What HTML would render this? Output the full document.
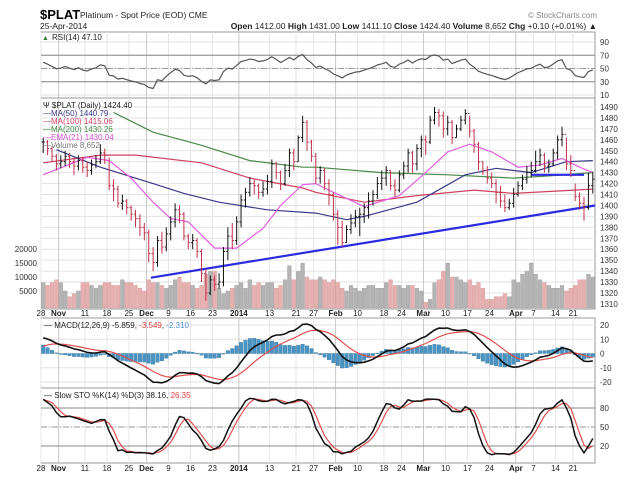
<!DOCTYPE html>
<html><head><meta charset="utf-8">
<style>
html,body{margin:0;padding:0;background:#fff;}
svg{display:block;font-family:"Liberation Sans",sans-serif;}
</style></head>
<body>
<svg id="c" width="626" height="483" viewBox="0 0 626 483" xmlns="http://www.w3.org/2000/svg">
<g>
<text x="40" y="19" font-size="13" font-weight="bold" fill="#000">$PLAT</text>
<text x="80" y="18" font-size="8.5" fill="#222">Platinum  - Spot Price (EOD) CME</text>
<text x="40" y="29" font-size="8.5" fill="#222">25-Apr-2014</text>
<text x="597" y="18" font-size="8" fill="#888" text-anchor="end">© StockCharts.com</text>
<text x="597" y="29" font-size="8.5" fill="#222" text-anchor="end"><tspan font-weight="bold">Open</tspan> 1412.00 <tspan font-weight="bold">High</tspan> 1431.00 <tspan font-weight="bold">Low</tspan> 1411.10 <tspan font-weight="bold">Close</tspan> 1424.40 <tspan font-weight="bold">Volume</tspan> 8,652 <tspan font-weight="bold">Chg</tspan> +0.10 (+0.01%) ▲</text>
</g>
</svg>
<script>
// ---- data ----
const dateLabels = ["28","Nov","11","18","25","Dec","9","16","23","2014","13","21","27","Feb","10","18","24","Mar","10","17","24","Apr","7","14","21"];
const dateIdx = [0,4,10,15,20,24,29,34,39,45,52,58,62,67,72,78,82,87,92,97,102,108,112,117,121];
const closes = [1458,1452,1445,1438,1440, 1445,1440,1436,1441,1435, 1432,1437,1440,1448,1446, 1418,1415,1402,1404,1398, 1392,1388,1380,1375,
 1356,1348,1368,1362,1374, 1385,1396,1392,1372,1366, 1368,1358,1338,1320,1332, 1328,1330,1358,1372, 1368,1385,1405,1412,
 1420,1418,1412,1415,1422, 1438,1430,1420,1432,1448, 1440,1462,1476,1458,1445, 1425,1432,1420,1410,1392,
 1380,1366,1378,1384,1390, 1392,1398,1404,1410,1420, 1425,1432,1418,1414,1428, 1436,1448,1438,1452,1460,
 1458,1478,1485,1482,1470, 1476,1462,1470,1478,1484, 1468,1456,1440,1432,1425, 1420,1412,1404,1398,1402,
 1410,1418,1424,1430,1432, 1440,1446,1436,1438,1448, 1460,1465,1438,1432, 1408,1402,1398,1418,1424];
const highs = [1462,1460,1454,1447,1446, 1450,1448,1444,1446,1444, 1440,1442,1446,1456,1452, 1444,1424,1418,1410,1406, 1400,1396,1392,1384,
 1378,1362,1372,1376,1380, 1390,1402,1400,1394,1374, 1374,1370,1360,1342,1336, 1336,1338,1362,1380, 1384,1390,1410,1416,
 1426,1424,1420,1422,1428, 1442,1440,1432,1438,1452, 1452,1464,1482,1478,1460, 1448,1436,1434,1424,1412,
 1396,1386,1382,1392,1396, 1398,1402,1412,1414,1426, 1432,1436,1432,1424,1432, 1440,1452,1450,1456,1464,
 1464,1482,1490,1488,1486, 1482,1478,1474,1482,1488, 1482,1470,1458,1440,1436, 1430,1424,1418,1410,1406,
 1416,1422,1428,1436,1440, 1450,1452,1448,1442,1452, 1464,1472,1462,1446, 1420,1412,1408,1430,1431];
const lows = [1448,1446,1440,1432,1434, 1436,1434,1428,1432,1430, 1426,1428,1434,1438,1438, 1414,1404,1398,1396,1392, 1386,1380,1372,1368,
 1348,1340,1344,1356,1358, 1368,1380,1384,1368,1360, 1360,1352,1330,1313,1318, 1322,1324,1326,1350, 1360,1364,1380,1398,
 1408,1410,1406,1408,1410, 1416,1424,1414,1418,1426, 1432,1440,1458,1450,1440, 1420,1420,1414,1400,1386,
 1364,1362,1366,1374,1380, 1372,1384,1388,1400,1406, 1414,1418,1414,1408,1412, 1424,1430,1430,1432,1444,
 1446,1456,1474,1472,1462, 1464,1456,1462,1468,1474, 1462,1448,1432,1428,1420, 1416,1402,1398,1394,1396,
 1398,1408,1414,1420,1426, 1430,1436,1430,1430,1436, 1442,1454,1432,1426, 1404,1396,1386,1396,1411];
const volumes = [8000,7000,8000,9000,8000, 5000,3000,4000,5000,8000, 8000,7000,6000,7000,8000, 8000,7000,7000,9000,8000, 8000,7000,6000,5000,
 9000,8000,8000,7000,6000, 7000,9000,10000,8000,8000, 7000,6000,7000,11000,12000, 12000,6000,4000,5000, 6000,7000,8000,6000,
 9000,7000,8000,7000,8000, 8000,6000,7000,9000,14000, 9000,12000,15000,10000,9000, 9000,10000,9000,8000,9000,
 8000,6000,5000,7000,6000, 5000,6000,7000,7000,6000, 6000,8000,9000,7000,7000, 6000,7000,7000,6000,5000,
 1000,2000,8000,9000,12000, 15000,10000,10000,9000,8000, 9000,7000,8000,6000,2000, 2000,3000,3000,4000,3000,
 9000,8000,11000,12000,15000, 11000,9000,8000,7000,6000, 6000,7000,5000,6000, 7000,9000,9000,11000,10000];
// moving averages (day index / value)
const ma50Idx = [3,13,25,32,40,51,62,69,73,85,96,103,111,119,125];
const ma50Val = [1451,1435,1420,1411,1403,1396,1393,1387,1390,1403,1428,1434,1430,1440,1441];
const ma100Idx = [0,13,21,36,47,59,62,73,85,98,107,125];
const ma100Val = [1439,1446,1446,1439,1425,1416,1412,1403,1409,1414,1411,1415];
const ma200Idx = [16,25,36,47,59,62,77,92,107,115,125];
const ma200Val = [1485,1467,1455,1441,1435,1435,1430,1428,1425,1427,1430];
const emaIdx = [0,10,15,20,25,29,33,39,44,50,54,59,62,66,73,81,87,92,97,102,108,113,118,122,125];
const emaVal = [1428,1444,1441,1425,1403,1388,1385,1361,1361,1379,1400,1419,1420,1412,1399,1409,1430,1449,1456,1449,1435,1437,1443,1435,1430];
const trendIdx = [25,126]; const trendVal = [1334,1400];
const flatIdx = [111,123]; const flatVal = [1428,1428];
const stoPreHigh = 1460, stoPreLow = 1400;

// ---- geometry ----
const X0=41, X1=595, N=126, DX=(X1-X0)/N;
const xi = i => X0 + (i+0.5)*DX;
const xg = i => X0 + i*DX;
const yRsi = v => 42 + (90-v)*0.6625;
const yPx = p => 107 + (1490-p)*1.094;
const yVol = v => 305 - v*0.0028;
const yMacd = v => 353.5 - v*1.425;
const ySto = v => 446 - (v-20)*0.633;
const svg = document.getElementById('c');
const NS='http://www.w3.org/2000/svg';
function mk(tag, attrs, parent){ const e=document.createElementNS(NS,tag); for(const k in attrs) e.setAttribute(k,attrs[k]); (parent||svg).appendChild(e); return e; }
function txt(s,x,y,attrs,parent){ const e=mk('text',Object.assign({x:x,y:y,'font-size':8.5,fill:'#222'},attrs||{}),parent); e.textContent=s; return e; }
function poly(pts,attrs,parent){ return mk('polyline',Object.assign({points:pts.map(p=>p[0].toFixed(1)+','+p[1].toFixed(1)).join(' '),fill:'none'},attrs),parent); }

const panels = [
 {name:'rsi-panel', top:32, bot:98, ticks:[90,70,50,30,10], y:yRsi},
 {name:'price-panel', top:98, bot:309, ticks:[1490,1480,1470,1460,1450,1440,1430,1420,1410,1400,1390,1380,1370,1360,1350,1340,1330,1320,1310], y:yPx},
 {name:'macd-panel', top:318, bot:388, ticks:[20,10,0,-10,-20], y:yMacd},
 {name:'sto-panel', top:388, bot:463, ticks:[80,50,20], y:ySto}
];
panels.forEach(p=>{
 const g=mk('g',{});
 
 
 mk('rect',{x:X0,y:p.top,width:X1-X0,height:p.bot-p.top,fill:'#fff',stroke:'#999','stroke-width':1},g);
 p.ticks.forEach(t=>{
  const yy=p.y(t);
  mk('line',{x1:X0,x2:X1,y1:yy,y2:yy,stroke:'#e2e2e2','stroke-width':1},g);
  const lb=txt(String(t),600,yy+3,{'font-size':8,fill:'#333'},g);
  
  
 });
 dateIdx.forEach((d,k)=>{
  const xx=xg(d);
  const isMonth=isNaN(+dateLabels[k]) || dateLabels[k]==='2014';
  mk('line',{x1:xx,x2:xx,y1:p.top,y2:p.bot,stroke:isMonth?'#c8c8c8':'#e6e6e6','stroke-width':1},g);
 });
 p.g=g;
});
[316,471].forEach(yy=>{
 dateLabels.forEach((s,k)=>{
  const isMonth=isNaN(+s) || s==='2014';
  const t=txt(s,xg(dateIdx[k]),yy,{'font-size':8,'text-anchor':'middle','font-weight':isMonth?'bold':'normal',fill:'#222'});
  
  
 });
});

// ---- RSI ----
const rg=panels[0].g;
[70,30].forEach(v=>mk('line',{x1:X0,x2:X1,y1:yRsi(v),y2:yRsi(v),stroke:'#888','stroke-width':1},rg));
mk('line',{x1:X0,x2:X1,y1:yRsi(50),y2:yRsi(50),stroke:'#999','stroke-width':1,'stroke-dasharray':'6,2,1,2'},rg);
let ag=5, al=3.4; const rsi=[];
closes.forEach((c,i)=>{ if(i>0){const d=c-closes[i-1]; ag=(ag*13+Math.max(d,0))/14; al=(al*13+Math.max(-d,0))/14;} rsi.push(100-100/(1+ag/al)); });
const rsiLine=poly(rsi.map((v,i)=>[xi(i),yRsi(v)]),{stroke:'#555','stroke-width':1.2},rg);


txt('RSI(14) 47.10',52,40,{'font-size':8,fill:'#222'},rg);
txt('▲',42,40,{'font-size':7,fill:'#3a7a3a'},rg);

// ---- price panel ----
const pg=panels[1].g;
volumes.forEach((v,i)=>{
 const down=i>0 && closes[i]<closes[i-1];
 const b=mk('rect',{x:xi(i)-1.9,y:yVol(v),width:3.8,height:305-yVol(v)+3,fill:down?'#e6b0b0':'#b4b4b4',stroke:down?'#d89a9a':'#a0a0a0','stroke-width':0.4},pg);
 
 
});
[20000,15000,10000,5000].forEach(v=>txt(String(v),37,yVol(v)+3,{'font-size':8,'text-anchor':'end',fill:'#333'},pg));
function maLine(idx,val,color,name,w){ const l=poly(idx.map((d,k)=>[xi(d),yPx(val[k])]),{stroke:color,'stroke-width':w||1.2},pg);   }
maLine(ma200Idx,ma200Val,'#4a8a4a','ma200-line');
maLine(ma100Idx,ma100Val,'#d04060','ma100-line');
maLine(ma50Idx,ma50Val,'#3a3a8a','ma50-line');
maLine(emaIdx,emaVal,'#e060e0','ema21-line');
maLine(trendIdx.map(d=>d-0.5),trendVal,'#2a2ae0','trendline',2.2);
maLine(flatIdx,flatVal,'#2a2ae0','resistance-line',2.2);
closes.forEach((c,i)=>{
 const o=i>0?closes[i-1]:c;
 const down=i>0 && c<o;
 const col=down?'#c0304a':'#111';
 const x=xi(i);
 const g=mk('g',{stroke:col,'stroke-width':1},pg);
 
 
 mk('line',{x1:x,x2:x,y1:yPx(highs[i]),y2:yPx(lows[i])},g);
 mk('line',{x1:x-1.6,x2:x,y1:yPx(o),y2:yPx(o)},g);
 mk('line',{x1:x,x2:x+1.6,y1:yPx(c),y2:yPx(c)},g);
});
const leg=[['$PLAT (Daily) 1424.40','#222',108],['MA(50) 1440.79','#3a3a8a',116],['MA(100) 1415.06','#d04060',124],['MA(200) 1430.26','#4a8a4a',132],['EMA(21) 1430.04','#d050d0',140],['Volume 8,652','#777',148]];
leg.forEach((l,k)=>{
 const t=txt((k===0?'Ψ ':'—')+l[0],43,l[2],{'font-size':8,fill:l[1]},pg);
 
 
});

// ---- MACD ----
const mg=panels[2].g;
let e12=1452, e26=1441, sig=5; const macd=[], sg=[];
closes.forEach((c,i)=>{ if(i>0){ e12+= (c-e12)*2/13; e26+=(c-e26)*2/27; } const m=e12-e26; if(i>0) sig+=(m-sig)*2/10; macd.push(m); sg.push(sig); });
macd.forEach((m,i)=>{
 const h=m-sg[i];
 const b=mk('rect',{x:xi(i)-1.8,y:Math.min(yMacd(0),yMacd(h)),width:3.6,height:Math.max(0.6,Math.abs(yMacd(h)-yMacd(0))),fill:'#4a94c4',stroke:'#2f6e98','stroke-width':0.3},mg);
 
 
});
const sl=poly(sg.map((v,i)=>[xi(i),yMacd(v)]),{stroke:'#e05050','stroke-width':1.2},mg);
 
const ml=poly(macd.map((v,i)=>[xi(i),yMacd(v)]),{stroke:'#111','stroke-width':1.6},mg);
 
const mt=txt('',44,328,{'font-size':8,fill:'#222'},mg);
mt.innerHTML='— MACD(12,26,9) -5.859, <tspan fill="#e04040">-3.549</tspan>, <tspan fill="#4a90d0">-2.310</tspan>';

// ---- Stochastics ----
const sgp=panels[3].g;
[80,20].forEach(v=>mk('line',{x1:X0,x2:X1,y1:ySto(v),y2:ySto(v),stroke:'#888','stroke-width':1},sgp));
mk('line',{x1:X0,x2:X1,y1:ySto(50),y2:ySto(50),stroke:'#999','stroke-width':1,'stroke-dasharray':'6,2,1,2'},sgp);
const fk=closes.map((c,i)=>{ const s=Math.max(0,i-13); let hh=Math.max(...highs.slice(s,i+1)), ll=Math.min(...lows.slice(s,i+1)); if(i<13){ hh=Math.max(hh,stoPreHigh); ll=Math.min(ll,stoPreLow);} return hh===ll?50:(c-ll)/(hh-ll)*100; });
const sma3=a=>a.map((v,i)=>{const s=a.slice(Math.max(0,i-2),i+1); return s.reduce((p,q)=>p+q,0)/s.length;});
const sk=sma3(fk), sd=sma3(sk);
const dl=poly(sd.map((v,i)=>[xi(i),ySto(v)]),{stroke:'#e05050','stroke-width':1.2},sgp);
 
const kl=poly(sk.map((v,i)=>[xi(i),ySto(v)]),{stroke:'#111','stroke-width':1.5},sgp);
 
const st=txt('',44,398,{'font-size':8,fill:'#222'},sgp);
st.innerHTML='— Slow STO %K(14) %D(3) 38.16, <tspan fill="#e04040">26.35</tspan>';
</script>
</body></html>
